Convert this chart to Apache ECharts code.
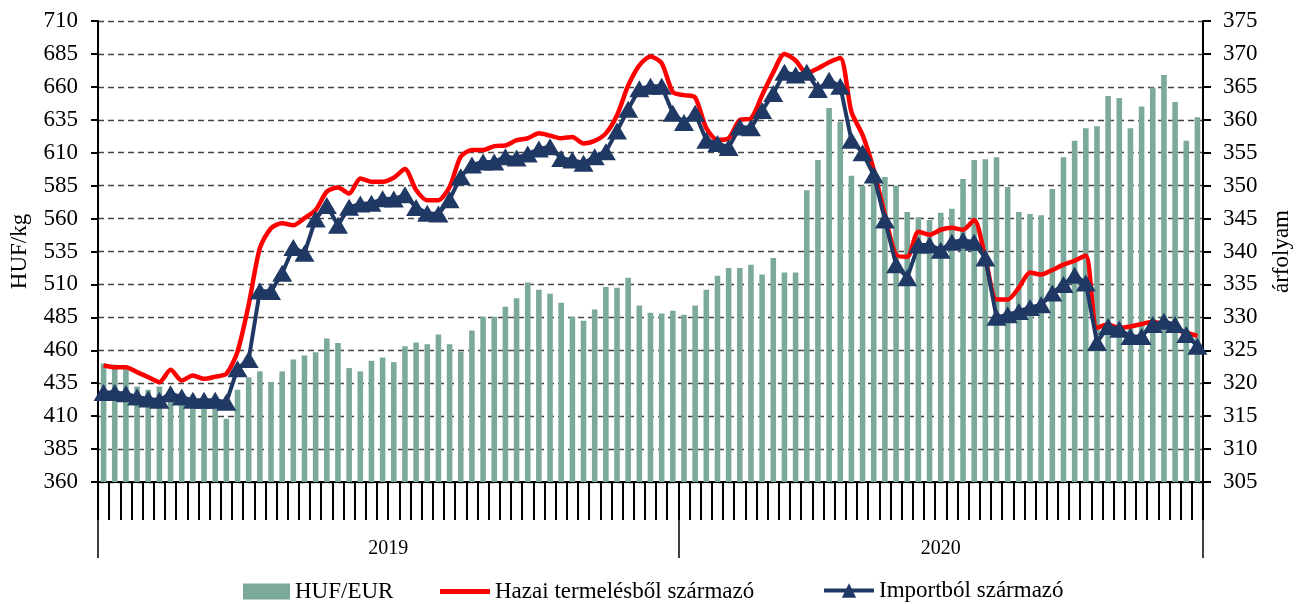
<!DOCTYPE html>
<html>
<head>
<meta charset="utf-8">
<script src="https://cdn.jsdelivr.net/npm/echarts@6/dist/echarts.min.js"></script>
<style>
html,body{margin:0;padding:0;background:#fff;}
#chart{width:1301px;height:604px;}
</style>
</head>
<body>
<div id="chart"></div>
<script>
// ---- data ----
const years = ['2019', '2020'];
const weeksPerYear = [52, 47];

const hufEur = [
 323.0,322.8,322.5,319.5,319.0,319.5,318.0,317.2,317.0,317.3,316.5,314.6,319.0,320.9,321.8,320.2,321.8,323.6,324.2,324.7,
 326.8,326.1,322.3,321.8,323.4,323.9,323.2,325.6,326.2,325.9,327.4,325.9,324.8,328.0,330.1,330.1,331.6,332.9,335.3,334.2,
 333.6,332.2,330.1,329.5,331.2,334.6,334.5,336.0,331.8,330.7,330.6,331.0,
 330.4,331.8,334.2,336.3,337.5,337.5,338.0,336.5,339.0,336.8,336.8,349.3,353.9,361.8,359.7,351.5,350.0,352.4,
 351.3,350.0,346.0,345.2,344.8,345.9,346.5,351.0,353.9,354.0,354.3,349.8,346.0,345.7,345.5,349.5,354.3,356.8,358.7,359.0,
 363.6,363.3,358.7,362.0,364.9,366.8,362.7,356.8,360.4
];

const hazai = [
 448.5,447.2,447.2,443.4,439.6,435.8,445.2,437.0,440.9,438.3,440.0,442.1,459.0,494.6,537.5,552.7,556.5,555.0,560.3,566.5,
 580.5,583.5,579.0,590.5,588.0,588.0,591.0,597.6,581.7,574.0,574.0,584.0,607.0,612.0,612.0,615.0,615.5,619.5,621.0,624.7,
 623.0,621.0,622.0,617.0,619.0,624.7,638.5,661.0,676.4,683.0,678.0,656.0,
 653.7,652.0,628.7,619.7,621.0,634.8,636.0,653.7,671.0,685.0,680.0,670.4,674.0,678.7,682.0,641.0,623.5,597.0,
 563.0,532.5,531.0,550.0,547.7,551.5,553.0,551.5,559.0,530.0,498.5,498.5,507.5,519.0,517.5,521.0,525.0,528.0,532.0,477.2,
 479.5,477.0,478.0,480.0,481.7,479.5,475.7,473.4,471.0
];

const importbol = [
 428.0,428.0,427.0,424.5,423.0,422.0,427.0,424.5,422.0,422.0,422.0,420.5,446.0,453.0,505.0,504.6,518.5,538.0,533.7,559.7,
 570.0,555.0,568.6,571.0,571.6,575.0,574.8,578.0,568.5,564.0,563.5,574.3,591.8,600.7,603.0,603.0,607.0,606.0,609.0,612.8,
 614.5,605.7,604.5,602.0,607.0,610.8,626.4,643.0,658.5,660.5,660.5,640.0,
 633.0,640.0,619.5,617.0,614.0,629.5,629.0,642.0,655.0,671.0,669.0,671.0,658.0,665.0,660.5,619.5,610.0,593.0,
 559.0,525.0,515.0,540.0,540.0,536.0,542.0,543.5,542.0,530.0,485.0,487.0,489.5,492.5,494.5,503.5,510.0,517.0,511.0,466.0,
 478.0,476.0,470.5,470.5,479.5,482.0,479.5,472.0,463.0
];

const seriesNames = ['HUF/EUR', 'Hazai termelésből származó', 'Importból származó'];
const leftAxisName = 'HUF/kg';
const rightAxisName = 'árfolyam';

// ---- derived ----
const categories = [];
years.forEach((y, yi) => { for (let w = 1; w <= weeksPerYear[yi]; w++) categories.push(y + '-' + w); });
const totalWeeks = categories.length;
const yearBounds = [0];
weeksPerYear.forEach(n => yearBounds.push(yearBounds[yearBounds.length - 1] + n));
const yearMids = years.map((y, i) => (yearBounds[i] + yearBounds[i + 1]) / 2);

const FONT = 'Liberation Serif';
const chart = echarts.init(document.getElementById('chart'), null, {renderer: 'canvas'});

const legendText = {fontFamily: FONT, fontSize: 23, color: '#000'};

chart.setOption({
  animation: false,
  backgroundColor: '#fff',
  grid: {left: 97, right: 93, top: 21, bottom: 122, containLabel: false},
  legend: [
    {data: [seriesNames[0]], left: 243, top: 580, itemWidth: 47, itemHeight: 16, icon: 'rect', textStyle: legendText, padding: 0},
    {data: [{name: seriesNames[1], icon: 'path://M0,0 L50,0 L50,5 L0,5 Z'}], left: 440, top: 580, itemWidth: 50, itemHeight: 16, textStyle: legendText, padding: 0},
    {data: [seriesNames[2]], left: 822, top: 579, itemWidth: 50, itemHeight: 18, textStyle: legendText, padding: 0,
     lineStyle: {width: 4}}
  ],
  xAxis: [
    {
      type: 'category', data: categories, boundaryGap: true, position: 'bottom',
      axisLine: {show: true, lineStyle: {color: '#000', width: 2}},
      axisTick: {show: true, interval: 0, length: 38, lineStyle: {color: '#000', width: 2}},
      axisLabel: {show: true, interval: 0, formatter: () => ''},
      splitLine: {show: false}
    },
    {
      type: 'value', position: 'bottom', min: 0, max: totalWeeks,
      axisLine: {show: false},
      splitLine: {show: false},
      axisTick: {show: true, customValues: yearBounds, length: 76, lineStyle: {color: '#000', width: 1.5}},
      axisLabel: {
        show: true, customValues: yearMids, margin: 57,
        formatter: v => { const i = yearMids.indexOf(v); return i >= 0 ? years[i] : ''; },
        fontFamily: FONT, fontSize: 20, color: '#000'
      }
    }
  ],
  yAxis: [
    {
      type: 'value', min: 360, max: 710, interval: 25, position: 'left',
      name: leftAxisName, nameLocation: 'middle', nameGap: 67,
      nameTextStyle: {fontFamily: FONT, fontSize: 23, color: '#000'},
      axisLine: {show: true, lineStyle: {color: '#000', width: 2}},
      axisTick: {show: true, length: 7, lineStyle: {color: '#000', width: 2}},
      axisLabel: {fontFamily: FONT, fontSize: 23, color: '#000', margin: 20},
      splitLine: {show: true, lineStyle: {color: '#444', type: [6, 4], width: 1.3}}
    },
    {
      type: 'value', min: 305, max: 375, interval: 5, position: 'right',
      name: rightAxisName, nameLocation: 'middle', nameGap: 67, nameRotate: 90,
      nameTextStyle: {fontFamily: FONT, fontSize: 23, color: '#000'},
      axisLine: {show: true, lineStyle: {color: '#000', width: 2}},
      axisTick: {show: true, length: 8, lineStyle: {color: '#000', width: 2}},
      axisLabel: {fontFamily: FONT, fontSize: 23, color: '#000', margin: 20},
      splitLine: {show: false}
    }
  ],
  series: [
    {
      name: seriesNames[0], type: 'bar', xAxisIndex: 0, yAxisIndex: 1,
      data: hufEur, barWidth: '50%',
      itemStyle: {color: '#7BAA9C'}
    },
    {
      name: seriesNames[1], type: 'line', xAxisIndex: 0, yAxisIndex: 0,
      data: hazai, symbol: 'none', smooth: 0.25,
      lineStyle: {color: '#FF0000', width: 4.5},
      itemStyle: {color: '#FF0000'}
    },
    {
      name: seriesNames[2], type: 'line', xAxisIndex: 0, yAxisIndex: 0,
      data: importbol, symbol: 'triangle', symbolSize: [20, 17], showAllSymbol: true,
      lineStyle: {color: '#1F3864', width: 4},
      itemStyle: {color: '#1F3864'}
    }
  ]
});
</script>
</body>
</html>
